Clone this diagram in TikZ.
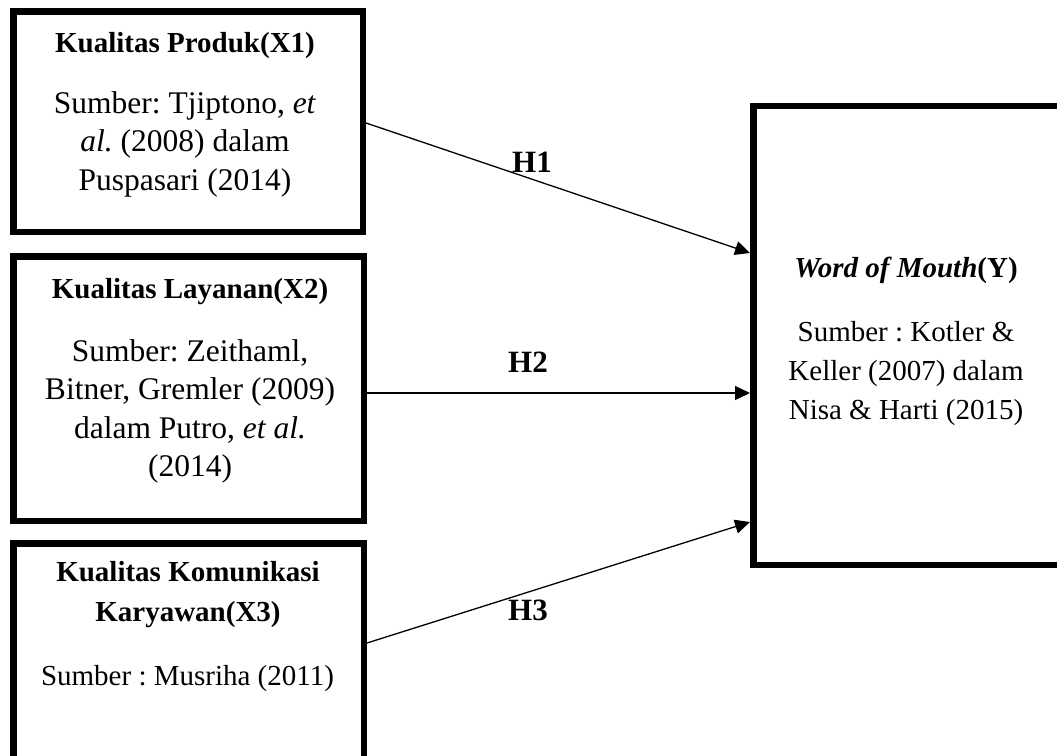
\documentclass[tikz,border=0pt]{standalone}
\usepackage{fontspec}
\setmainfont{Liberation Serif}
\usetikzlibrary{arrows.meta}
\frenchspacing
\begin{document}
\begin{tikzpicture}[x=1pt,y=-1pt,
  box/.style={draw,line width=6.5pt,inner sep=0pt,outer sep=3.25pt},
  ttl/.style={font=\bfseries\fontsize{29}{40}\selectfont,align=center,anchor=base,inner sep=0pt},
  bod/.style={font=\fontsize{31.5}{38.5}\selectfont,align=center,anchor=base,inner sep=0pt},
  bods/.style={font=\fontsize{29}{39}\selectfont,align=center,anchor=base,inner sep=0pt},
  arr/.style={line width=1.3pt,-{Triangle[length=15pt,width=14pt]}},
  hl/.style={font=\bfseries\fontsize{31}{31}\selectfont,anchor=base,inner sep=0pt}]
\useasboundingbox (0,0) rectangle (1057,755);
\clip (0,0) rectangle (1057,755);
% boxes
\node[box,minimum width=349.5pt,minimum height=220.5pt] (b1) at (188,121.5) {};
\node[box,minimum width=350.5pt,minimum height=264.5pt] (b2) at (188.5,388.5) {};
\node[box,minimum width=350.5pt,minimum height=253.5pt] (b3) at (188.5,670) {};
\node[box,minimum width=307.5pt,minimum height=459pt] (bY) at (907,335.25) {};
% texts (base = baseline of the last line)
\node[ttl] (b1t) at (185,52) {Kualitas Produk(X1)};
\node[bod] (b1s) at (185,190) {Sumber: Tjiptono, \textit{et}\\ \textit{al.} (2008) dalam\\ Puspasari (2014)};
\node[ttl] (b2t) at (190,298) {Kualitas Layanan(X2)};
\node[bod] (b2s) at (190,476.5) {Sumber: Zeithaml,\\ Bitner, Gremler (2009)\\ dalam Putro, \textit{et al.}\\ (2014)};
\node[ttl] (b3t) at (188,621.7) {Kualitas Komunikasi\\ Karyawan(X3)};
\node[bods] (b3s) at (187.5,685) {Sumber : Musriha (2011)};
\node[ttl] (bYt) at (906,277) {\textit{Word of Mouth}(Y)};
\node[bods] (bYs) at (906,419.7) {Sumber : Kotler \&\\ Keller (2007) dalam\\ Nisa \& Harti (2015)};
% connectors
\coordinate (s1) at (b1.east |- 0,123);
\coordinate (s2) at (b2.east |- 0,393);
\coordinate (s3) at (b3.east |- 0,643);
\coordinate (t1) at (bY.west |- 0,253);
\coordinate (t2) at (bY.west |- 0,393);
\coordinate (t3) at (bY.west |- 0,522);
\draw[arr] (s1) -- (t1);
\draw[arr] (s2) -- (t2);
\draw[arr] (s3) -- (t3);
\node[hl] (h1) at (532,172) {H1};
\node[hl] (h2) at (528,372) {H2};
\node[hl] (h3) at (528,620) {H3};
\end{tikzpicture}
\end{document}
